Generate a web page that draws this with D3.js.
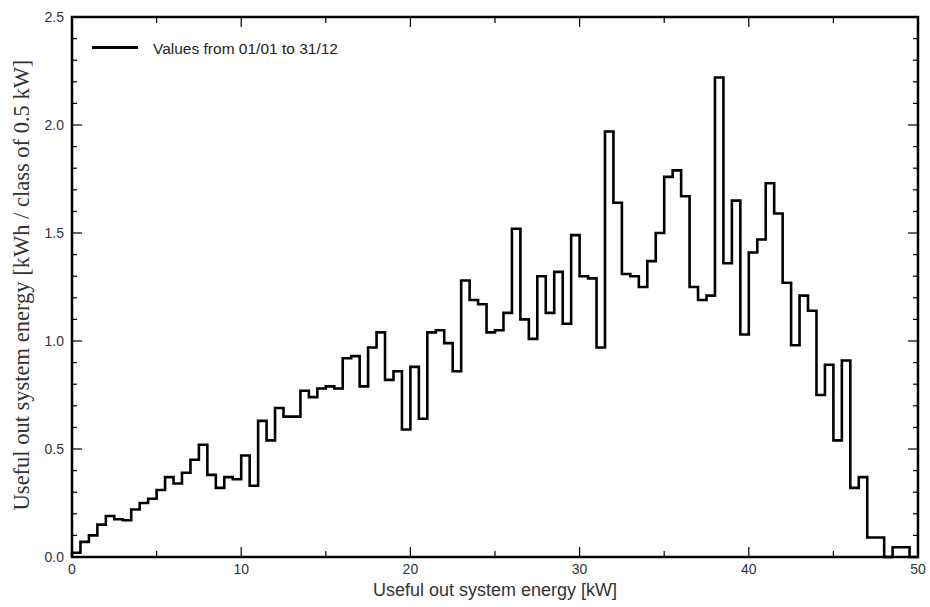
<!DOCTYPE html>
<html>
<head>
<meta charset="utf-8">
<script src="https://cdn.jsdelivr.net/npm/d3@7"></script>
<style>
  body { margin: 0; background: #fff; }
  svg text { font-family: "Liberation Sans", Arial, sans-serif; }
</style>
</head>
<body>
<div id="chart"></div>
<script>
// energy per class of 0.5 kW, classes starting at 0 kW
var classWidth = 0.5;
var energy = [
  0.02, 0.07, 0.10, 0.15, 0.19, 0.175, 0.17, 0.22, 0.25, 0.27,
  0.31, 0.37, 0.34, 0.39, 0.45, 0.52, 0.38, 0.32, 0.37, 0.36,
  0.47, 0.33, 0.63, 0.54, 0.69, 0.65, 0.65, 0.77, 0.74, 0.78,
  0.79, 0.78, 0.92, 0.93, 0.79, 0.97, 1.04, 0.82, 0.86, 0.59,
  0.88, 0.64, 1.04, 1.05, 0.99, 0.86, 1.28, 1.19, 1.17, 1.04,
  1.05, 1.13, 1.52, 1.10, 1.01, 1.30, 1.13, 1.32, 1.08, 1.49,
  1.30, 1.29, 0.97, 1.97, 1.64, 1.31, 1.30, 1.25, 1.37, 1.50,
  1.76, 1.79, 1.67, 1.25, 1.19, 1.21, 2.22, 1.36, 1.65, 1.03,
  1.41, 1.47, 1.73, 1.59, 1.27, 0.98, 1.21, 1.14, 0.75, 0.89,
  0.54, 0.91, 0.32, 0.37, 0.09, 0.09, 0.00, 0.045, 0.045, 0.00
];
var xTicks = [0, 10, 20, 30, 40, 50];
var xMinor = [5, 15, 25, 35, 45];
var yTicks = [0, 0.5, 1.0, 1.5, 2.0, 2.5];
var yMinor = [0.1, 0.2, 0.3, 0.4, 0.6, 0.7, 0.8, 0.9, 1.1, 1.2, 1.3, 1.4,
              1.6, 1.7, 1.8, 1.9, 2.1, 2.2, 2.3, 2.4];
var legendLabel = "Values from 01/01 to 31/12";

var W = 930, H = 607;
var margin = {top: 17, right: 12, bottom: 50, left: 72},
    width = W - margin.left - margin.right,
    height = H - margin.top - margin.bottom;

var svg = d3.select("#chart").append("svg")
    .attr("width", W)
    .attr("height", H);

var g = svg.append("g")
    .attr("transform", "translate(" + margin.left + "," + margin.top + ")");

var x = d3.scaleLinear().domain([0, 50]).range([0, width]);
var y = d3.scaleLinear().domain([0, 2.5]).range([height, 0]);

// tick marks, inward on all four sides
function ticks(axis, vals, len) {
  var t = g.append("g").attr("class", "ticks").attr("stroke", "#000").attr("stroke-width", 1.2);
  vals.forEach(function(v) {
    if (axis === "x") {
      t.append("line").attr("x1", x(v)).attr("x2", x(v)).attr("y1", height).attr("y2", height - len);
      t.append("line").attr("x1", x(v)).attr("x2", x(v)).attr("y1", 0).attr("y2", len);
    } else {
      t.append("line").attr("y1", y(v)).attr("y2", y(v)).attr("x1", 0).attr("x2", len);
      t.append("line").attr("y1", y(v)).attr("y2", y(v)).attr("x1", width).attr("x2", width - len);
    }
  });
}
ticks("x", xTicks, 10);
ticks("x", xMinor, 6);
ticks("y", yTicks, 10);
ticks("y", yMinor, 5);

// tick labels
g.append("g").selectAll("text")
    .data(xTicks)
    .enter().append("text")
    .attr("x", function(d) { return x(d); })
    .attr("y", height + 17)
    .attr("text-anchor", "middle")
    .style("font-size", "14px")
    .style("fill", "#333")
    .text(function(d) { return d; });

g.append("g").selectAll("text")
    .data(yTicks)
    .enter().append("text")
    .attr("x", -8)
    .attr("y", function(d) { return y(d) + 5; })
    .attr("text-anchor", "end")
    .style("font-size", "14px")
    .style("fill", "#333")
    .text(function(d) { return d3.format(".1f")(d); });

// histogram outline
var pts = [[0, 0]];
energy.forEach(function(v, i) { pts.push([i * classWidth, v]); });
pts.push([energy.length * classWidth, 0]);

var line = d3.line()
    .x(function(d) { return x(d[0]); })
    .y(function(d) { return y(d[1]); })
    .curve(d3.curveStepAfter);

g.append("path")
    .datum(pts)
    .attr("d", line)
    .attr("fill", "none")
    .attr("stroke", "#000")
    .attr("stroke-width", 2.6)
    .attr("stroke-linejoin", "miter");

// frame
g.append("rect")
    .attr("width", width)
    .attr("height", height)
    .attr("fill", "none")
    .attr("stroke", "#000")
    .attr("stroke-width", 2.5);

// legend
var lg = g.append("g").attr("transform", "translate(20,30.5)");
lg.append("line")
    .attr("x1", 0).attr("x2", 46)
    .attr("stroke", "#000").attr("stroke-width", 2.8);
lg.append("text")
    .attr("x", 61).attr("y", 6)
    .style("font-size", "15.5px")
    .style("fill", "#222")
    .text(legendLabel);

// axis titles
svg.append("text")
    .attr("x", margin.left + width / 2)
    .attr("y", 596)
    .attr("text-anchor", "middle")
    .style("font-size", "18px")
    .style("fill", "#333")
    .text("Useful out system energy [kW]");

svg.append("text")
    .attr("transform", "translate(29,285) rotate(-90)")
    .attr("text-anchor", "middle")
    .style("font-family", "'Liberation Serif', 'Times New Roman', serif")
    .style("font-size", "22.5px")
    .style("fill", "#333")
    .text("Useful out system energy [kWh / class of 0.5 kW]");
</script>
</body>
</html>
